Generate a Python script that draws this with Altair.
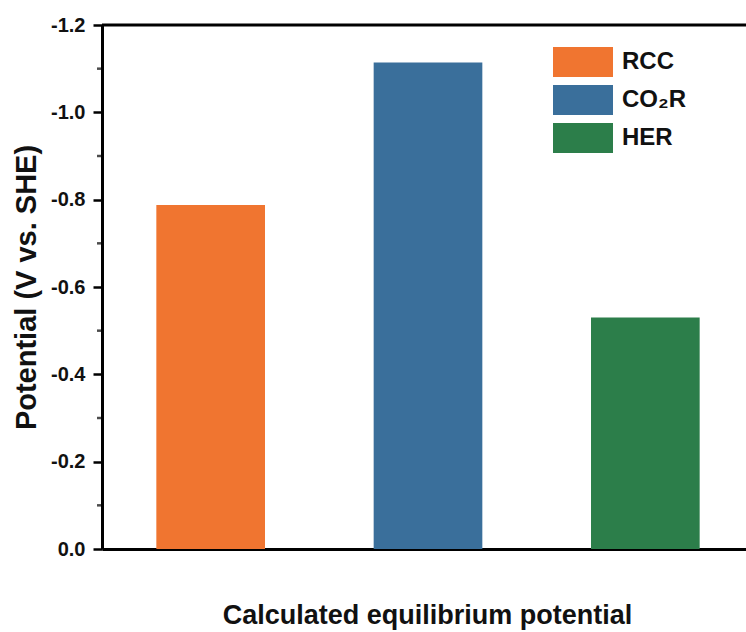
import altair as alt
import pandas as pd

categories = ["RCC", "CO₂R", "HER"]
values = [-0.788, -1.114, -0.530]
colors = ["#F07530", "#3A6F9B", "#2C7E4A"]
y_ticks = [0, -0.2, -0.4, -0.6, -0.8, -1.0, -1.2]
y_minor = [-0.1, -0.3, -0.5, -0.7, -0.9, -1.1]

df = pd.DataFrame({"cat": categories, "value": values})

FONT = "Liberation Sans"

x_enc = alt.X(
    "cat:N",
    sort=categories,
    scale=alt.Scale(range=[0, 652], paddingInner=0.5, paddingOuter=0.25),
    axis=alt.Axis(
        title="Calculated equilibrium potential",
        labels=False, ticks=False, domainWidth=3, domainColor="black",
        titleFont=FONT, titleFontSize=27, titleFontWeight="bold",
        titlePadding=53, titleX=325, titleColor="#111",
    ),
)

y_scale = alt.Scale(domain=[0, -1.2], nice=False)

bars = alt.Chart(df).mark_bar().encode(
    x=x_enc,
    y=alt.Y(
        "value:Q",
        scale=y_scale,
        axis=alt.Axis(
            title="Potential (V vs. SHE)",
            values=y_ticks,
            labelExpr="datum.value == 0 ? '0.0' : '-' + format(abs(datum.value), '.1f')",
            grid=False,
            domainWidth=3, domainColor="black",
            tickWidth=2.5, tickSize=9, tickColor="black",
            labelFont=FONT, labelFontSize=20, labelFontWeight="bold",
            labelPadding=8, labelColor="#111",
            titleFont=FONT, titleFontSize=29, titleFontWeight="bold",
            titlePadding=9, titleColor="#111",
        ),
    ),
    y2=alt.datum(0),
    color=alt.Color(
        "cat:N",
        sort=categories,
        scale=alt.Scale(domain=categories, range=colors),
        legend=alt.Legend(
            title=None, orient="none", legendX=451, legendY=19,
            symbolType="M-1,-0.5H1V0.5H-1Z", symbolSize=3600,
            symbolStrokeWidth=0, symbolOpacity=1,
            labelFont=FONT, labelFontSize=24, labelFontWeight="bold",
            labelColor="#111", labelOffset=9, rowPadding=2, padding=0,
            clipHeight=36,
        ),
    ),
)

minor = alt.Chart(pd.DataFrame({"t": y_minor})).mark_tick(
    orient="horizontal", color="black", thickness=2.5, size=5, xOffset=-2.5
).encode(y=alt.Y("t:Q", scale=y_scale), x=alt.value(0))

top = alt.Chart(pd.DataFrame({"t": [-1.2]})).mark_rule(color="black", strokeWidth=3).encode(
    y=alt.Y("t:Q", scale=y_scale)
)

chart = (
    alt.layer(bars, minor, top)
    .properties(
        width=644, height=524,
        autosize=alt.AutoSizeParams(type="none"),
        padding={"left": 102, "top": 25, "right": 0, "bottom": 83},
    )
    .configure_view(stroke=None)
    .configure(background="white")
)

chart.save("out.html", embed_options={"renderer": "svg", "actions": False})
